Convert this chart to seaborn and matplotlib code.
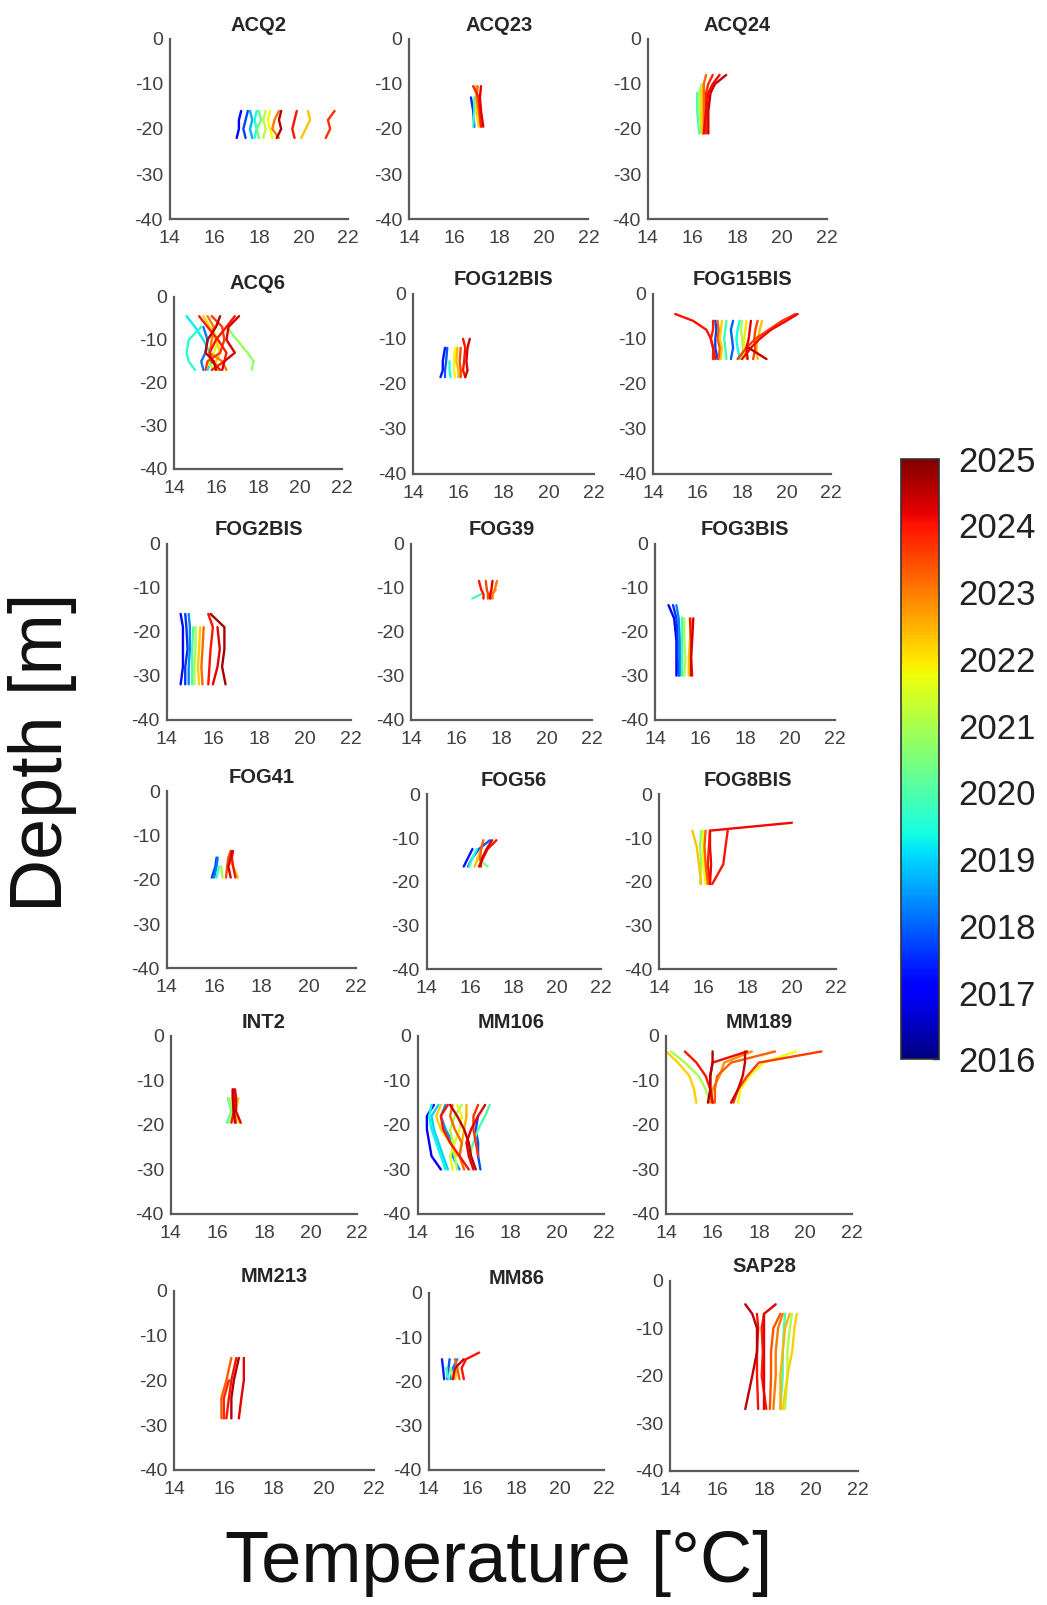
import matplotlib

matplotlib.use("Agg")
import matplotlib.pyplot as plt
import numpy as np
import pandas as pd
import seaborn as sns
from matplotlib.colors import Normalize
from matplotlib.cm import ScalarMappable

# ---- profile data: year (decimal), depth levels [m], temperature rows [degC] ----
acq2_depth = [-16, -18, -20, -22]
acq2_year = [2017.0, 2017.7, 2018.7, 2019.5, 2020.4, 2021.2, 2021.8, 2023.0, 2024.6, 2024.0, 2022.3, 2023.7]
acq2_temp = [
    [17.2, 17.1, 17.1, 17.0], [17.5, 17.4, 17.3, 17.4], [17.6, 17.7, 17.6, 17.7],
    [17.9, 17.8, 17.9, 17.8], [18.0, 18.1, 17.9, 18.0], [18.3, 18.2, 18.3, 18.2],
    [18.5, 18.4, 18.5, 18.6], [18.9, 18.7, 18.6, 18.9], [19.0, 18.9, 19.0, 18.8],
    [19.7, 19.6, 19.5, 19.6], [20.2, 20.3, 20.1, 19.9], [21.4, 21.1, 21.2, 21.0],
]

acq23_depth = [-10.5, -13, -16, -19.5]
acq23_year = [2017.5, 2019.8, 2022.2, 2023.2, 2023.9, 2024.2]
acq23_temp = [
    [None, 16.75, 16.85, 16.9], [None, 16.9, 16.9, 16.85], [16.95, 17.0, 17.0, 17.1],
    [17.05, 17.0, 17.1, 17.2], [16.85, 17.1, 17.15, 17.2], [17.2, 17.15, 17.2, 17.3],
]

acq24_depth = [-8, -10, -12, -16, -21]
acq24_year = [2020.0, 2021.0, 2022.2, 2023.2, 2023.8, 2024.1, 2024.4]
acq24_temp = [
    [None, None, 16.2, 16.2, 16.3], [None, 16.4, 16.3, 16.3, 16.4], [None, 16.5, 16.4, 16.4, 16.4],
    [16.6, 16.5, 16.5, 16.5, 16.5], [16.9, 16.7, 16.6, 16.6, 16.6], [17.2, 16.9, 16.7, 16.6, 16.5],
    [17.5, 17.0, 16.8, 16.7, 16.7],
]

acq6_depth = [-4.5, -7, -10, -13, -15, -17]
acq6_year = [2019.2, 2019.6, 2018.2, 2020.8, 2021.5, 2022.2, 2023.0, 2023.9, 2024.0, 2024.3, 2024.5, 2023.6]
acq6_temp = [
    [14.6, 15.0, 15.4, 15.7, 15.8, 15.6], [None, 15.3, 14.7, 14.6, 14.7, 15.0],
    [None, 15.4, 15.6, 15.5, 15.3, 15.4], [None, 16.5, 17.0, 17.5, 17.8, 17.7],
    [None, 15.8, 16.1, 15.9, 15.6, 15.9], [15.4, 15.7, 16.0, 16.2, 16.0, 16.1],
    [15.6, 15.9, 15.8, 15.7, 16.3, 16.5], [15.2, 15.6, 16.1, 16.5, 16.4, 15.8],
    [16.9, 16.5, 16.0, 15.7, 15.8, 16.2], [17.1, 16.6, 16.5, 16.9, 16.4, 16.3],
    [16.2, 16.0, 15.6, 15.5, 15.9, 16.0], [15.8, 16.3, 16.4, 16.2, 15.6, 15.5],
]

fog12_depth = [-10, -12, -15, -17, -18.5]
fog12_year = [2017.3, 2017.9, 2019.5, 2021.8, 2022.4, 2023.5, 2024.0, 2024.3]
fog12_temp = [
    [None, 15.4, 15.3, 15.3, 15.2], [None, 15.5, 15.45, 15.4, 15.4], [None, None, 15.6, 15.6, 15.65],
    [None, 15.85, 15.8, 15.8, 15.85], [None, 15.95, 15.9, 16.0, 16.0], [None, 16.1, 16.05, 16.1, 16.1],
    [16.2, 16.3, 16.25, 16.2, 16.3], [16.5, 16.4, 16.35, 16.4, 16.3],
]

fog15_depth = [-4.5, -6, -8, -10, -12, -14.5]
fog15_year = [2023.9, 2017.7, 2023.3, 2022.2, 2019.8, 2018.0, 2019.4, 2021.0, 2022.0, 2024.2, 2023.5,
              2022.3, 2024.0, 2023.6, 2024.1, 2024.5]
fog15_temp = [
    [None, 16.7, 16.7, 16.6, 16.7, 16.7], [None, 16.8, 16.85, 16.8, 16.8, 16.9],
    [None, 16.9, 16.95, 16.9, 17.0, 16.95], [None, 17.1, 17.05, 17.0, 17.1, 17.05],
    [None, 17.3, 17.25, 17.2, 17.25, 17.3], [None, 17.6, 17.5, 17.55, 17.6, 17.5],
    [None, 17.9, 17.8, 17.75, 17.8, 17.9], [None, 18.0, 17.95, 18.0, 18.05, 18.0],
    [None, 18.2, 18.15, 18.1, 18.1, 18.2], [None, 18.4, 18.35, 18.3, 18.2, 18.25],
    [None, 18.7, 18.6, 18.55, 18.6, 18.5], [None, 18.9, 18.8, 18.7, 18.65, 18.7],
    [15.0, 15.8, 16.4, 16.6, 16.7, 16.8], [20.4, 19.8, 19.2, 18.6, 18.2, 17.8],
    [20.5, 20.0, 19.3, 18.8, 18.4, 18.0], [None, None, None, None, 18.3, 19.1],
]

fog2_depth = [-16, -19, -24, -28, -32]
fog2_year = [2017.2, 2017.6, 2018.3, 2020.0, 2021.0, 2022.2, 2023.2, 2024.0, 2024.2, 2024.7]
fog2_temp = [
    [14.6, 14.7, 14.7, 14.7, 14.6], [14.8, 14.85, 14.9, 14.8, 14.8], [14.95, 15.0, 15.0, 14.95, 14.95],
    [None, 15.15, 15.1, 15.1, 15.1], [None, 15.25, 15.25, 15.2, 15.2], [None, 15.45, 15.4, 15.35, 15.4],
    [None, 15.6, 15.55, 15.5, 15.55], [15.8, 16.0, 15.9, 15.85, 15.8], [None, 16.2, 16.3, 16.2, 16.0],
    [15.9, 16.5, 16.5, 16.4, 16.55],
]

fog39_depth = [-8.5, -10.5, -11.5, -12.5]
fog39_year = [2020.0, 2024.0, 2023.5, 2024.2, 2023.0, 2022.4]
fog39_temp = [
    [None, None, 17.1, 16.7], [17.0, 17.1, 17.2, 17.2], [17.3, 17.35, 17.4, 17.4],
    [17.6, 17.55, 17.5, 17.5], [17.8, 17.7, 17.6, 17.6], [None, 17.75, 17.6, 17.5],
]

fog3_depth = [-14, -17, -22, -26, -30]
fog3_year = [2017.0, 2017.6, 2018.3, 2019.8, 2021.0, 2022.3, 2024.0, 2024.3]
fog3_temp = [
    [14.6, 14.85, 14.95, 14.95, 14.95], [14.8, 14.95, 15.0, 15.0, 15.05], [14.95, 15.05, 15.1, 15.1, 15.1],
    [None, 15.2, 15.2, 15.2, 15.2], [None, 15.3, 15.3, 15.35, 15.3], [None, 15.6, 15.55, 15.5, 15.5],
    [None, 15.55, 15.6, 15.6, 15.65], [None, 15.7, 15.65, 15.6, 15.6],
]

fog41_depth = [-13.5, -15, -17, -19.5]
fog41_year = [2017.7, 2018.2, 2019.8, 2021.0, 2022.3, 2023.5, 2024.0, 2024.3]
fog41_temp = [
    [None, 16.1, 16.05, 15.9], [None, 16.15, 16.1, 16.0], [None, None, 16.2, 16.1],
    [None, None, 16.3, 16.35], [None, 16.6, 16.8, 17.0], [16.7, 16.6, 16.55, 16.5],
    [16.8, 16.75, 16.8, 16.9], [16.75, 16.7, 16.6, 16.7],
]

fog56_depth = [-10.5, -12.5, -14.5, -16.5]
fog56_year = [2017.3, 2017.9, 2019.6, 2020.6, 2022.3, 2023.3, 2024.0, 2024.3]
fog56_temp = [
    [None, 16.1, 15.9, 15.7], [16.9, 16.4, 16.1, 15.9], [None, 16.3, 16.1, 15.95],
    [None, None, 16.3, 16.8], [None, 16.5, 16.35, 16.2], [16.6, 16.5, 16.45, 16.5],
    [17.2, 16.8, 16.6, 16.4], [17.0, 16.75, 16.55, 16.45],
]

fog8_depth = [-6.5, -8.3, -12, -16, -20.5]
fog8_year = [2020.8, 2022.3, 2021.8, 2023.3, 2023.9, 2024.1, 2024.0]
fog8_temp = [
    [None, 15.9, 15.85, 15.9, 15.85], [None, 15.5, 15.7, 15.8, 15.9], [None, 16.0, 16.0, 16.0, 16.1],
    [None, 16.1, 16.05, 16.1, 16.2], [None, 16.3, 16.25, 16.2, 16.3], [20.0, 16.3, 16.3, 16.35, 16.3],
    [None, 17.1, 17.0, 16.9, 16.4],
]

int2_depth = [-12, -14, -17, -19.5]
int2_year = [2020.0, 2021.0, 2022.3, 2023.5, 2024.0, 2024.2, 2024.5]
int2_temp = [
    [None, 16.45, 16.6, 16.4], [None, 16.5, 16.65, 16.5], [None, 16.9, 16.75, 16.95],
    [None, 16.7, 16.7, 16.8], [16.7, 16.7, 16.7, 16.6], [16.75, 16.8, 16.8, 17.0],
    [16.65, 16.65, 16.7, 16.75],
]

mm106_depth = [-15.5, -18, -21, -24, -27, -30]
mm106_year = [2017.0, 2017.8, 2019.0, 2020.0, 2021.0, 2022.2, 2022.5, 2023.2, 2024.0, 2024.2, 2024.5,
              2019.3, 2018.4, 2021.6, 2023.7]
mm106_temp = [
    [14.7, 14.4, 14.4, 14.5, 14.6, 15.0], [None, 16.6, 16.5, 16.6, 16.6, 16.7],
    [14.9, 14.6, 14.7, 14.9, 15.1, 15.3], [17.1, 16.9, 16.6, 16.4, 16.2, None],
    [15.9, 15.6, 15.4, 15.5, 15.6, 15.7], [15.0, 14.8, 15.0, 15.4, 15.7, None],
    [16.1, 16.1, 16.0, 15.9, 15.8, None], [15.5, 15.4, 15.6, 15.9, 15.8, 16.0],
    [15.3, 15.0, 15.1, 15.4, 15.8, 16.2], [16.9, 16.6, 16.3, 16.1, 16.2, 16.4],
    [15.4, 15.7, 16.0, 16.2, 16.3, 16.5], [14.6, 14.5, 14.6, 14.8, 15.0, 15.2],
    [15.2, 15.0, 15.2, 15.5, 15.5, 15.8], [15.7, 15.9, 15.8, 15.6, 15.4, 15.5],
    [16.6, 16.4, 16.4, 16.5, 16.6, None],
]

mm189_depth = [-3.5, -6, -9, -12, -15]
mm189_year = [2022.2, 2021.0, 2024.0, 2023.3, 2024.1, 2024.4, 2023.6, 2021.8, 2022.8, 2024.6]
mm189_temp = [
    [14.0, 14.5, 15.0, 15.2, 15.3], [14.2, 14.8, 15.4, 15.7, 15.9], [14.8, 15.3, 15.7, 15.9, 16.0],
    [18.7, 16.8, 16.2, 16.1, 16.1], [17.5, 16.0, 15.9, 15.9, 16.0], [17.4, 17.4, 17.3, 17.1, 16.8],
    [20.7, 18.0, 17.5, 17.1, 16.9], [19.6, 18.2, 17.6, 17.2, 17.1], [17.7, 16.5, 16.3, 16.0, 15.9],
    [16.0, 16.0, 15.9, 15.9, 15.8],
]

mm213_depth = [-15, -20, -24, -28.5]
mm213_year = [2023.3, 2024.0, 2024.6, 2024.2, 2023.8]
mm213_temp = [
    [16.3, 16.1, 15.9, 15.9], [16.5, 16.3, 16.2, 16.1], [16.6, 16.4, 16.3, 16.3],
    [16.8, 16.8, 16.7, 16.6], [None, 16.2, 16.0, 16.0],
]

mm86_depth = [-13.5, -15, -17, -19.5]
mm86_year = [2017.4, 2017.9, 2018.3, 2019.6, 2020.8, 2022.3, 2023.3, 2024.0, 2024.3]
mm86_temp = [
    [None, 14.6, 14.65, 14.7], [None, 14.95, 14.9, 14.85], [None, 15.3, 15.1, 15.0],
    [None, None, 14.8, 14.9], [None, None, 15.0, 15.1], [None, None, 15.3, 15.2],
    [None, 15.2, 15.3, 15.4], [16.3, 15.7, 15.5, 15.6], [None, 15.6, 15.2, 15.1],
]

sap28_depth = [-5, -7, -10, -15, -20, -27]
sap28_year = [2024.5, 2024.0, 2024.2, 2023.9, 2023.4, 2019.9, 2021.0, 2022.2, 2022.5, 2023.0]
sap28_temp = [
    [17.2, 17.5, 17.7, 17.7, 17.5, 17.2], [None, 17.7, 17.75, 17.7, 17.7, 17.75],
    [18.5, 18.0, 18.0, 18.0, 18.0, 18.0], [None, 18.0, 17.9, 17.95, 17.9, 18.1],
    [None, 18.7, 18.4, 18.3, 18.3, 18.25], [None, 18.9, 18.85, 18.8, 18.8, 18.7],
    [None, 19.2, 19.1, 19.0, 19.0, 18.9], [None, 19.4, 19.3, 19.2, 19.0, 18.8],
    [None, 19.1, 18.9, 18.8, 18.7, 18.7], [None, 18.8, 18.6, 18.5, 18.5, 18.4],
]

stations = [
    ("ACQ2", acq2_year, acq2_depth, acq2_temp),
    ("ACQ23", acq23_year, acq23_depth, acq23_temp),
    ("ACQ24", acq24_year, acq24_depth, acq24_temp),
    ("ACQ6", acq6_year, acq6_depth, acq6_temp),
    ("FOG12BIS", fog12_year, fog12_depth, fog12_temp),
    ("FOG15BIS", fog15_year, fog15_depth, fog15_temp),
    ("FOG2BIS", fog2_year, fog2_depth, fog2_temp),
    ("FOG39", fog39_year, fog39_depth, fog39_temp),
    ("FOG3BIS", fog3_year, fog3_depth, fog3_temp),
    ("FOG41", fog41_year, fog41_depth, fog41_temp),
    ("FOG56", fog56_year, fog56_depth, fog56_temp),
    ("FOG8BIS", fog8_year, fog8_depth, fog8_temp),
    ("INT2", int2_year, int2_depth, int2_temp),
    ("MM106", mm106_year, mm106_depth, mm106_temp),
    ("MM189", mm189_year, mm189_depth, mm189_temp),
    ("MM213", mm213_year, mm213_depth, mm213_temp),
    ("MM86", mm86_year, mm86_depth, mm86_temp),
    ("SAP28", sap28_year, sap28_depth, sap28_temp),
]

# panel boxes (left, top, right, bottom) in pixels of a 1023x1568 sheet
panel_boxes = [
    (166, 38, 340, 214), (400, 38, 575, 214), (633, 38, 808, 214),
    (170, 290, 334, 458), (404, 287, 580, 463), (638, 287, 812, 463),
    (163, 531, 343, 703), (402, 531, 578, 703), (640, 531, 816, 703),
    (163, 773, 348, 946), (417, 776, 587, 947), (644, 776, 817, 947),
    (167, 1012, 349, 1186), (408, 1012, 590, 1186), (651, 1012, 832, 1186),
    (170, 1261, 365, 1436), (419, 1263, 590, 1436), (655, 1251, 838, 1437),
]
SHEET_W, SHEET_H = 1023, 1568

YEAR_MIN, YEAR_MAX = 2016, 2025
AXIS_GRAY = "#5a5a5a"
TICK_GRAY = "#404040"
JET = plt.get_cmap("jet")


def profiles_frame(years, depth, temps):
    rows = []
    for k, (yr, row) in enumerate(zip(years, temps)):
        for d, t in zip(depth, row):
            if t is None:
                continue
            rows.append({"profile": k, "year": yr, "temp": t, "depth": d})
    return pd.DataFrame(rows)


sns.set_style("white")
plt.rcParams["font.family"] = ["Liberation Sans", "DejaVu Sans"]
plt.rcParams["axes.unicode_minus"] = False

fig = plt.figure(figsize=(10.47, 16.05), dpi=100)

for (name, years, depth, temps), (l, t, r, b) in zip(stations, panel_boxes):
    ax = fig.add_axes([l / SHEET_W, 1 - b / SHEET_H, (r - l) / SHEET_W, (b - t) / SHEET_H])
    df = profiles_frame(years, depth, temps)
    sns.lineplot(
        data=df, x="temp", y="depth", hue="year", units="profile",
        estimator=None, sort=False, palette=JET, hue_norm=(YEAR_MIN, YEAR_MAX),
        legend=False, lw=1.7, ax=ax,
    )
    for ln in ax.get_lines():
        ln.set_solid_joinstyle("round")
        ln.set_solid_capstyle("round")
    ax.set_xlim(14, 22)
    ax.set_ylim(-40, 0)
    ax.set_xticks([14, 16, 18, 20, 22])
    ax.set_yticks([-40, -30, -20, -10, 0])
    ax.set(xlabel="", ylabel="")
    ax.set_title(name, fontsize=14.5, fontweight="bold", pad=6)
    sns.despine(ax=ax)
    for side in ("left", "bottom"):
        ax.spines[side].set_color(AXIS_GRAY)
        ax.spines[side].set_linewidth(1.6)
    ax.tick_params(direction="in", length=3, width=1, color=AXIS_GRAY,
                   labelcolor=TICK_GRAY, labelsize=14)
    ax.tick_params(axis="x", pad=8)
    ax.tick_params(axis="y", pad=5)
    ax.patch.set_alpha(0)

# colorbar
cax = fig.add_axes([880 / SHEET_W, 1 - 1035 / SHEET_H, 37 / SHEET_W, (1035 - 448) / SHEET_H])
sm = ScalarMappable(norm=Normalize(YEAR_MIN, YEAR_MAX), cmap=JET)
cbar = fig.colorbar(sm, cax=cax, ticks=np.arange(YEAR_MIN, YEAR_MAX + 1))
cbar.ax.tick_params(direction="in", length=5, width=1, color="#333333",
                    labelsize=25, labelcolor="#222222", pad=14)
cbar.outline.set_edgecolor("#333333")
cbar.outline.set_linewidth(1.2)

fig.text(43 / 1047, 0.531, "Depth [m]", rotation=90, ha="center", va="center",
         fontsize=53, color="#111111")
fig.text(0.476, 0.026, "Temperature [°C]", ha="center", va="center",
         fontsize=52, color="#111111")

fig.savefig("out.png", dpi=100, facecolor="white")
